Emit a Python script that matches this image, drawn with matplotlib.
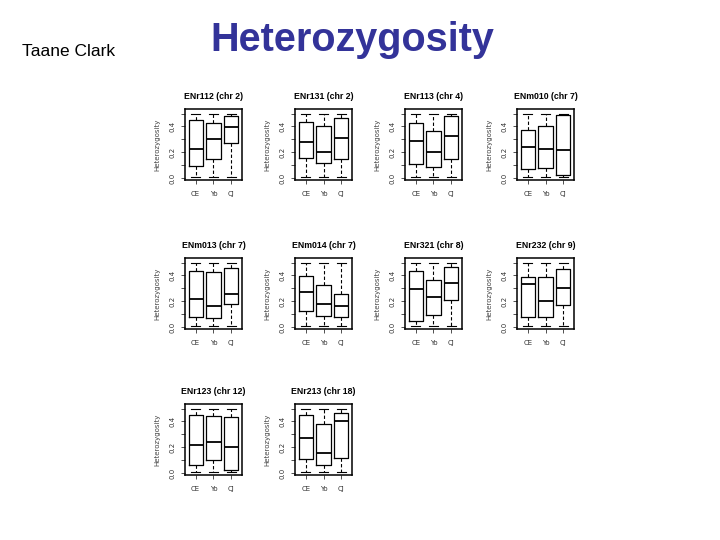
import matplotlib.pyplot as plt

# Data: per region, 3 populations (CE, Yo, CJ)
regions = ["ENr112 (chr 2)", "ENr131 (chr 2)", "ENr113 (chr 4)", "ENm010 (chr 7)",
           "ENm013 (chr 7)", "ENm014 (chr 7)", "ENr321 (chr 8)", "ENr232 (chr 9)",
           "ENr123 (chr 12)", "ENr213 (chr 18)"]
groups = ["CE", "Yo", "CJ"]

q1 = [[0.094, 0.150, 0.275], [0.153, 0.120, 0.145], [0.107, 0.082, 0.145], [0.074, 0.076, 0.020],
      [0.077, 0.070, 0.177], [0.125, 0.084, 0.077], [0.048, 0.096, 0.209], [0.077, 0.077, 0.173],
      [0.059, 0.102, 0.025], [0.107, 0.059, 0.115]]
med = [[0.224, 0.300, 0.395], [0.280, 0.204, 0.313], [0.288, 0.199, 0.326], [0.242, 0.227, 0.219],
       [0.220, 0.165, 0.257], [0.273, 0.177, 0.165], [0.293, 0.233, 0.340], [0.333, 0.200, 0.305],
       [0.214, 0.237, 0.199], [0.275, 0.153, 0.400]]
q3 = [[0.450, 0.425, 0.479], [0.433, 0.400, 0.464], [0.428, 0.364, 0.479], [0.370, 0.400, 0.489],
      [0.436, 0.424, 0.456], [0.396, 0.324, 0.257], [0.436, 0.364, 0.465], [0.388, 0.388, 0.453],
      [0.446, 0.440, 0.438], [0.446, 0.377, 0.464]]
whis_lo = [0.005, 0.005, 0.005]
whis_hi = [0.50, 0.50, 0.50]

fig = plt.figure(figsize=(7.2, 5.4), dpi=100)

fig.text(22 / 720, 1 - 52 / 540, "Taane Clark", fontsize=12.5, family="Liberation Sans",
         va="center", ha="left")
fig.text(210 / 720, 1 - 40 / 540, "Heterozygosity", fontsize=28.5, family="Liberation Sans",
         weight="bold", color="#333399", va="center", ha="left")

col_left = [185, 295, 405, 517]
row_top = [109, 258, 404]
w, h = 57, 71

for i, name in enumerate(regions):
    r, c = divmod(i, 4)
    ax = fig.add_axes([col_left[c] / 720, 1 - (row_top[r] + h) / 540, w / 720, h / 540])
    stats = []
    for j, g in enumerate(groups):
        stats.append({"label": g, "whislo": whis_lo[j], "q1": q1[i][j], "med": med[i][j],
                      "q3": q3[i][j], "whishi": whis_hi[j]})
    ax.bxp(stats, positions=[1, 2, 3], widths=0.8, showfliers=False,
           boxprops=dict(color="black", linewidth=0.9),
           medianprops=dict(color="black", linewidth=1.3),
           whiskerprops=dict(color="black", linewidth=0.8, linestyle=(0, (3, 2))),
           capprops=dict(color="black", linewidth=0.8), capwidths=0.5)
    ax.set_xlim(0.4, 3.6)
    ax.set_ylim(-0.015, 0.535)
    ax.set_yticks([0.0, 0.1, 0.2, 0.3, 0.4, 0.5])
    ax.set_yticklabels(["0.0", "", "0.2", "", "0.4", ""], rotation=90, va="center")
    ax.set_xticks([1, 2, 3])
    ax.set_xticklabels(groups)
    ax.tick_params(labelsize=5, length=3, width=0.6, pad=3.5, colors="#333333")
    ax.tick_params(axis="x", pad=5)
    for s in ax.spines.values():
        s.set_linewidth(1.1)
    ax.set_ylabel("Heterozygosity", fontsize=5, color="#444444", labelpad=7)
    ax.set_title(name, fontsize=6.3, weight="bold", pad=7, family="Liberation Sans")

fig.savefig("out.png", dpi=100)
